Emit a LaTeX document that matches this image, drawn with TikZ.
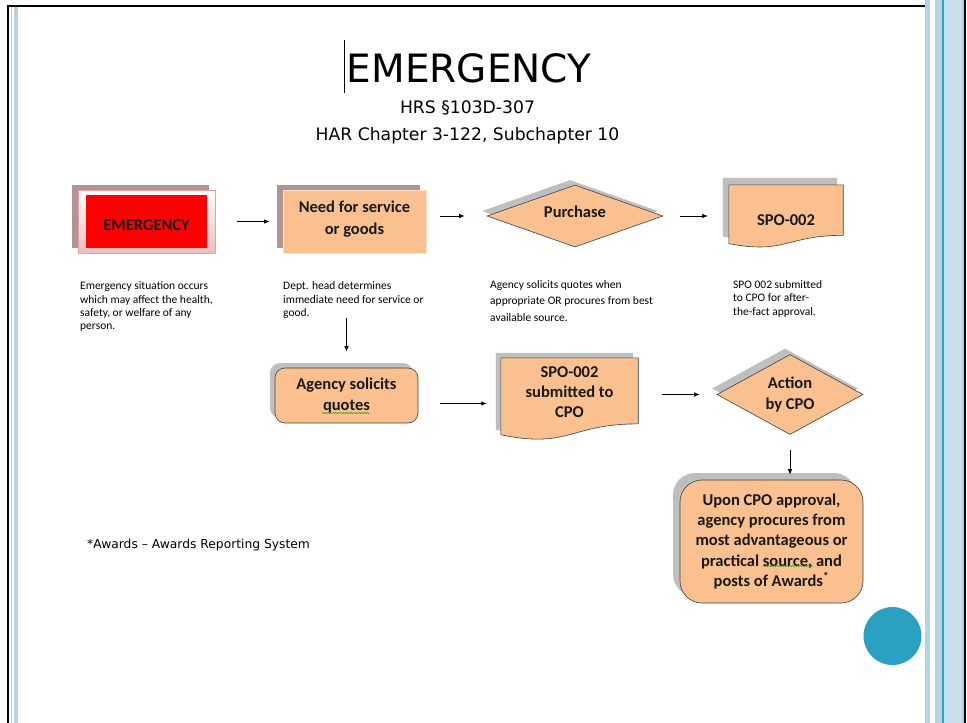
\documentclass[tikz,border=0pt]{standalone}
\usepackage{fontspec}
\setmainfont{Carlito}
\newfontfamily\titlefont{DejaVu Sans}
\usetikzlibrary{shapes.geometric,shadows,arrows.meta,calc,decorations.pathmorphing}
\pgfdeclarelayer{background}
\pgfsetlayers{background,main}
\definecolor{peach}{HTML}{FAC08F}
\definecolor{mauve}{HTML}{B39494}
\definecolor{shgray}{HTML}{BFBFBF}
\definecolor{edgec}{HTML}{404040}
\definecolor{pinkedge}{HTML}{E3A3A3}
\definecolor{pinkbot}{HTML}{EDBDBD}
\definecolor{stripe}{HTML}{B4D4E0}
\definecolor{stripelt}{HTML}{C8E0EA}
\definecolor{tealc}{HTML}{2AA1C0}
\newcommand\docshape[3]{%
  \path[#3] (#1.north west) -- (#1.north east)
    -- ($(#1.north east)+(0,0.802*#2)$)
    .. controls ($(#1.north)+(0,0.802*#2)$) and ($(#1.north)+(0,1.107*#2)$)
    .. ($(#1.north west)+(0,0.934*#2)$) -- cycle;}
\begin{document}
\begin{tikzpicture}[x=1pt,y=-1pt,
  boxtxt/.style={font=\fontsize{16.5}{20.3}\selectfont\bfseries, align=center, text=black!90},
  peachbox/.style={fill=peach, draw=edgec, line width=0.6pt},
  arr/.style={-{Latex[length=5.5pt,width=4.5pt]}, line width=0.8pt},
  desc/.style={anchor=north west, inner sep=0pt, align=left, font=\fontsize{11.5}{13.4}\selectfont},
  mshadow/.style={drop shadow={shadow xshift=-6pt, shadow yshift=5pt, opacity=1, fill=mauve}},
  gshadow/.style={drop shadow={shadow xshift=-5pt, shadow yshift=5pt, opacity=1, fill=shgray}},
  squig/.style={decorate, decoration={snake, amplitude=0.6pt, segment length=2.6pt}, draw=green!60!black, line width=0.4pt}
]
\useasboundingbox (0,0) rectangle (967,723);
\begin{pgfonlayer}{background}
\fill[white] (0,0) rectangle (967,723);
\end{pgfonlayer}

% frame and stripes
\draw[line width=2pt] (7.5,723) -- (7.5,6) -- (925,6);
\fill[stripe] (11,7) rectangle (12.3,723);
\fill[stripe] (13.7,7) rectangle (17.7,723);
\fill[stripe] (925,0) rectangle (930,723);
\fill[stripe] (935,0) rectangle (942.3,723);
\fill[tealc] (942.3,0) rectangle (944,723);
\fill[stripelt] (944,0) rectangle (961.7,723);
\fill[stripe] (961.7,0) rectangle (963.5,723);
\draw[line width=2pt] (964.5,0) -- (964.5,723);
\fill[tealc] (892.5,636) circle[radius=29pt];

% title
\node[font=\titlefont\fontsize{39}{44}\selectfont, anchor=base, inner sep=0pt] (title) at (469,82) {EMERGENCY};
\draw[line width=1.3pt] (344.5,40) -- (344.5,93);
\node[font=\titlefont\fontsize{17.2}{19}\selectfont, anchor=base, inner sep=0pt] (hrs) at (467.5,113.3) {HRS §103D-307};
\node[font=\titlefont\fontsize{17.2}{19}\selectfont, anchor=base, inner sep=0pt] (har) at (467.5,140) {HAR Chapter 3-122, Subchapter 10};

% row 1
\node[draw=pinkedge, line width=0.8pt, top color=white, bottom color=pinkbot,
      minimum width=137pt, minimum height=63pt, inner sep=0pt, mshadow,
      path picture={\fill[red] ([xshift=8pt,yshift=-5pt]path picture bounding box.north west) rectangle ([xshift=-8pt,yshift=5pt]path picture bounding box.south east);},
      boxtxt, text height=19pt] (emg) at (146.5,221.5) {EMERGENCY};
\node[fill=peach, draw=peach!45!white, line width=0.8pt, minimum width=143pt, minimum height=63pt,
      mshadow, boxtxt, font=\fontsize{16.5}{22}\selectfont\bfseries, text depth=8pt] (need) at (354.5,221.5) {Need for service\\or goods};
\node[diamond, aspect=2.84, peachbox, minimum width=176pt, minimum height=62pt, inner sep=0pt,
      gshadow, boxtxt, text depth=8pt] (purchase) at (575,216) {Purchase};
\node[minimum width=114pt, minimum height=70pt, inner sep=0pt, boxtxt] (doc1) at (786,220) {SPO-002};

% row 2
\node[peachbox, rounded corners=10pt, minimum width=143pt, minimum height=55pt, inner sep=0pt,
      gshadow, boxtxt] (agency) at (346.5,395.5) {Agency solicits\\quotes};
\node[minimum width=137pt, minimum height=68pt, inner sep=0pt, boxtxt] (doc2) at (569.5,392) {SPO-002\\submitted to\\CPO};
\node[diamond, aspect=1.825, peachbox, minimum width=146pt, minimum height=80pt, inner sep=0pt,
      drop shadow={shadow xshift=-5pt, shadow yshift=6pt, opacity=1, fill=shgray}, boxtxt] (action) at (790,394.5) {Action\\by CPO};
\node[peachbox, rounded corners=22pt, minimum width=183pt, minimum height=123pt, inner sep=0pt,
      drop shadow={shadow xshift=-7pt, shadow yshift=7pt, opacity=1, fill=shgray}, boxtxt] (final) at (771.5,541.5)
      {Upon CPO approval,\\agency procures from\\most advantageous or\\practical source, and\\posts of Awards\textsuperscript{*}};

\begin{pgfonlayer}{background}
  \docshape{doc1}{63}{fill=shgray, transform canvas={shift={(-6pt,7pt)}}}
  \docshape{doc1}{63}{fill=peach, draw=edgec, line width=0.6pt}
  \docshape{doc2}{82.4}{fill=shgray, transform canvas={shift={(-5pt,5pt)}}}
  \docshape{doc2}{82.4}{fill=peach, draw=edgec, line width=0.6pt}
\end{pgfonlayer}

% descriptions
\node[desc] (d1) at (80,279.5) {\rule{0pt}{10pt}Emergency situation occurs\\which may affect the health,\\safety, or welfare of any\\person.};
\node[desc] (d2) at (283,279.5) {\rule{0pt}{10pt}Dept. head determines\\immediate need for service or\\good.};
\node[desc, font=\fontsize{11.5}{16.2}\selectfont] (d3) at (490,278.5) {\rule{0pt}{10pt}Agency solicits quotes when\\appropriate OR procures from best\\available source.};
\node[desc] (d4) at (733,278) {\rule{0pt}{10pt}SPO 002 submitted\\to CPO for after-\\the-fact approval.};

\node[font=\titlefont\fontsize{12.3}{14}\selectfont, anchor=base west, inner sep=0pt] (awards) at (87,548.5) {*Awards – Awards Reporting System};

% connectors
\draw[arr, shorten <=22pt, shorten >=13pt] (emg.east) -- (need.west);
\draw[arr, shorten <=14pt, shorten >=22pt] (need.east |- purchase.west) -- (purchase.west);
\draw[arr, shorten <=17pt, shorten >=21pt] (purchase.east) -- (purchase.east -| doc1.west);
\draw[arr, shorten <=65pt, shorten >=16pt] (agency.north |- need.south) -- (agency.north);
\draw[arr, shorten <=22pt, shorten >=14pt] ([yshift=-8pt]agency.east) -- ([yshift=-8pt]agency.east -| doc2.west);
\draw[arr, shorten <=24pt, shorten >=17pt] (doc2.east |- action.west) -- (action.west);
\draw[arr, shorten <=15.5pt, shorten >=5pt] (action.south) -- (action.south |- final.north);

% spell-check squiggles
\draw[squig] ($(agency.center)+(-24.5,17.5)$) -- ++(48,0);
\draw[squig] ($(final.center)+(-8.5,24.5)$) -- ++(50,0);
\end{tikzpicture}
\end{document}
